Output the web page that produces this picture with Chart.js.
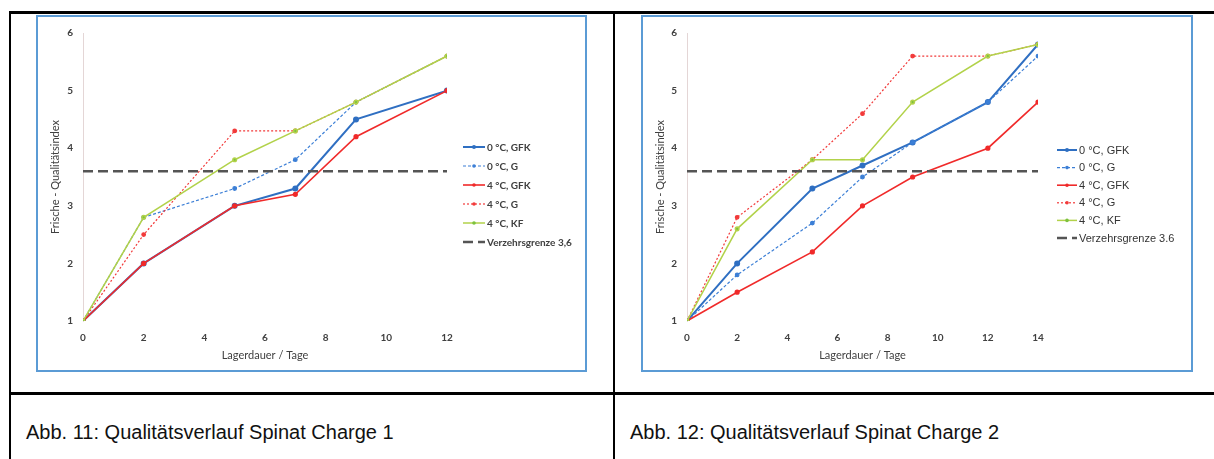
<!DOCTYPE html>
<html>
<head>
<meta charset="utf-8">
<script src="https://cdn.jsdelivr.net/npm/chart.js@4.4.1/dist/chart.umd.min.js"></script>
<style>
  body { margin: 0; background: #fff; width: 1214px; height: 459px; position: relative; overflow: hidden; }
  .ln { position: absolute; background: #000; }
  .frame { position: absolute; border: 2px solid #5B9BD5; box-sizing: border-box; background: #fff; }
  .frame canvas { display: block; }
  .cap { position: absolute; top: 421px; font-family: "Liberation Sans", Arial, sans-serif; font-size: 20px; color: #111; white-space: nowrap; }
</style>
</head>
<body>
<div class="ln" style="left:9px; top:11px; width:1205px; height:3px;"></div>
<div class="ln" style="left:9px; top:11px; width:2px; height:448px;"></div>
<div class="ln" style="left:613px; top:11px; width:2px; height:448px;"></div>
<div class="ln" style="left:9px; top:392px; width:1205px; height:3px;"></div>

<div class="frame" style="left:36px; top:15px; width:551px; height:357px;">
  <canvas id="chart1" width="547" height="353"></canvas>
</div>
<div class="frame" style="left:641px; top:15px; width:552px; height:357px;">
  <canvas id="chart2" width="548" height="353"></canvas>
</div>

<div class="cap" style="left:26px;">Abb. 11: Qualitätsverlauf Spinat Charge 1</div>
<div class="cap" style="left:630px;">Abb. 12: Qualitätsverlauf Spinat Charge 2</div>

<script>
// Charge 1
var daysC1 = [0, 2, 5, 7, 9, 12];
var c1_0GFK = [1, 2.0, 3.0, 3.3, 4.5, 5.0];
var c1_0G   = [1, 2.8, 3.3, 3.8, 4.8, 5.6];
var c1_4GFK = [1, 2.0, 3.0, 3.2, 4.2, 5.0];
var c1_4G   = [1, 2.5, 4.3, 4.3, 4.8, 5.6];
var c1_4KF  = [1, 2.8, 3.8, 4.3, 4.8, 5.6];
var grenzeDaysC1 = [0, 12];

// Charge 2
var daysC2 = [0, 2, 5, 7, 9, 12, 14];
var c2_0GFK = [1, 2.0, 3.3, 3.7, 4.1, 4.8, 5.8];
var c2_0G   = [1, 1.8, 2.7, 3.5, 4.1, 4.8, 5.6];
var c2_4GFK = [1, 1.5, 2.2, 3.0, 3.5, 4.0, 4.8];
var c2_4G   = [1, 2.8, 3.8, 4.6, 5.6, 5.6, 5.8];
var c2_4KF  = [1, 2.6, 3.8, 3.8, 4.8, 5.6, 5.8];
var grenzeDaysC2 = [0, 14];

var grenzeWert = 3.6;
var labelsC1 = ["0 °C, GFK", "0 °C, G", "4 °C, GFK", "4 °C, G", "4 °C, KF", "Verzehrsgrenze 3,6"];
var labelsC2 = ["0 °C, GFK", "0 °C, G", "4 °C, GFK", "4 °C, G", "4 °C, KF", "Verzehrsgrenze 3.6"];
var yTicks = [1, 2, 3, 4, 5, 6];

function pts(xs, ys) {
    var out = [];
    for (var i = 0; i < xs.length; i++) out.push({ x: xs[i], y: ys[i] });
    return out;
}
function flat(xs, v) {
    return xs.map(function (x) { return { x: x, y: v }; });
}

var BLUE = "#2F6FC2", BLUE2 = "#3C7FD6", RED = "#F02A2A", RED2 = "#F23A3A", GREEN = "#B2D24A", GREENPT = "#7CC23E", GREY = "#555555";

function makeSets(days, s0gfk, s0g, s4gfk, s4g, s4kf, gdays, labels) {
    return [
        { label: labels[0], data: pts(days, s0gfk), borderColor: BLUE, backgroundColor: BLUE, borderWidth: 2, pointRadius: 2, order: 6 },
        { label: labels[1], data: pts(days, s0g), borderColor: BLUE2, backgroundColor: BLUE2, borderWidth: 1.2, borderDash: [3, 2], pointRadius: 1.8, order: 5 },
        { label: labels[2], data: pts(days, s4gfk), borderColor: RED, backgroundColor: RED, borderWidth: 1.6, pointRadius: 1.8, order: 4 },
        { label: labels[3], data: pts(days, s4g), borderColor: RED2, backgroundColor: RED2, borderWidth: 1.2, borderDash: [2, 2], pointRadius: 1.8, order: 3 },
        { label: labels[4], data: pts(days, s4kf), borderColor: GREEN, backgroundColor: GREENPT, borderWidth: 1.5, pointRadius: 1.8, order: 2 },
        { label: labels[5], data: flat(gdays, grenzeWert), borderColor: GREY, backgroundColor: GREY, borderWidth: 2.5, borderDash: [10, 5], pointRadius: 0, order: 1 }
    ];
}

// small legend drawn on the canvas, Excel style (line + marker + text)
var sketchLegend = {
    id: 'sketchLegend',
    afterDraw: function (chart, args, o) {
        var ctx = chart.ctx;
        ctx.save();
        chart.data.datasets.forEach(function (ds, i) {
            var y = o.y + i * o.step;
            ctx.beginPath();
            ctx.setLineDash(ds.borderDash || []);
            ctx.lineWidth = ds.borderWidth;
            ctx.strokeStyle = ds.borderColor;
            ctx.moveTo(o.x, y);
            ctx.lineTo(o.x + o.len, y);
            ctx.stroke();
            ctx.setLineDash([]);
            if (ds.pointRadius > 0) {
                ctx.beginPath();
                ctx.fillStyle = ds.backgroundColor;
                ctx.arc(o.x + o.len / 2, y, ds.pointRadius, 0, Math.PI * 2);
                ctx.fill();
            }
            ctx.fillStyle = o.color;
            ctx.font = o.font;
            ctx.textBaseline = 'middle';
            ctx.fillText(ds.label, o.x + o.len + 2, y + 0.5);
        });
        ctx.restore();
    }
};

function makeChart(id, datasets, xMax, pad, yWidth, legendOpts) {
    var tickFont = { family: "Lato, 'Open Sans', sans-serif", size: 10, weight: 'bold' };
    var titleFont = { family: "Lato, 'Open Sans', sans-serif", size: 11 };
    return new Chart(document.getElementById(id).getContext('2d'), {
        type: 'line',
        data: { datasets: datasets },
        options: {
            responsive: false,
            animation: false,
            layout: { padding: pad },
            plugins: { legend: { display: false }, tooltip: { enabled: false }, sketchLegend: legendOpts },
            elements: { line: { tension: 0 }, point: { borderWidth: 0 } },
            scales: {
                x: {
                    type: 'linear', min: 0, max: xMax,
                    grid: { display: false, drawTicks: false },
                    border: { display: false },
                    ticks: { stepSize: 2, padding: 11, color: '#404040', font: tickFont },
                    title: { display: true, text: 'Lagerdauer / Tage', color: '#404040', font: titleFont, padding: { top: 0, bottom: 8 } },
                    afterFit: function (s) { s.height = 49; }
                },
                y: {
                    min: 1, max: 6,
                    grid: { display: false, drawTicks: false },
                    border: { display: true, color: '#E4D6D6', width: 1 },
                    afterBuildTicks: function (s) { s.ticks = yTicks.map(function (v) { return { value: v }; }); },
                    ticks: { padding: 10, color: '#404040', font: tickFont },
                    title: { display: true, text: 'Frische - Qualitätsindex', color: '#404040', font: titleFont, padding: { top: 11, bottom: 0 } },
                    afterFit: function (s) { s.width = yWidth; }
                }
            }
        },
        plugins: [sketchLegend]
    });
}

makeChart('chart1',
    makeSets(daysC1, c1_0GFK, c1_0G, c1_4GFK, c1_4G, c1_4KF, grenzeDaysC1, labelsC1),
    12, { left: 0, right: 138, top: 11, bottom: 0 }, 45,
    { x: 425, y: 130, step: 19, len: 22, color: '#404040', font: "bold 10px Lato, sans-serif" });

makeChart('chart2',
    makeSets(daysC2, c2_0GFK, c2_0G, c2_4GFK, c2_4G, c2_4KF, grenzeDaysC2, labelsC2),
    14, { left: 0, right: 153, top: 11, bottom: 0 }, 44,
    { x: 414, y: 133, step: 17.6, len: 20, color: '#333333', font: "11px 'Liberation Sans', Arial, sans-serif" });
</script>
</body>
</html>
